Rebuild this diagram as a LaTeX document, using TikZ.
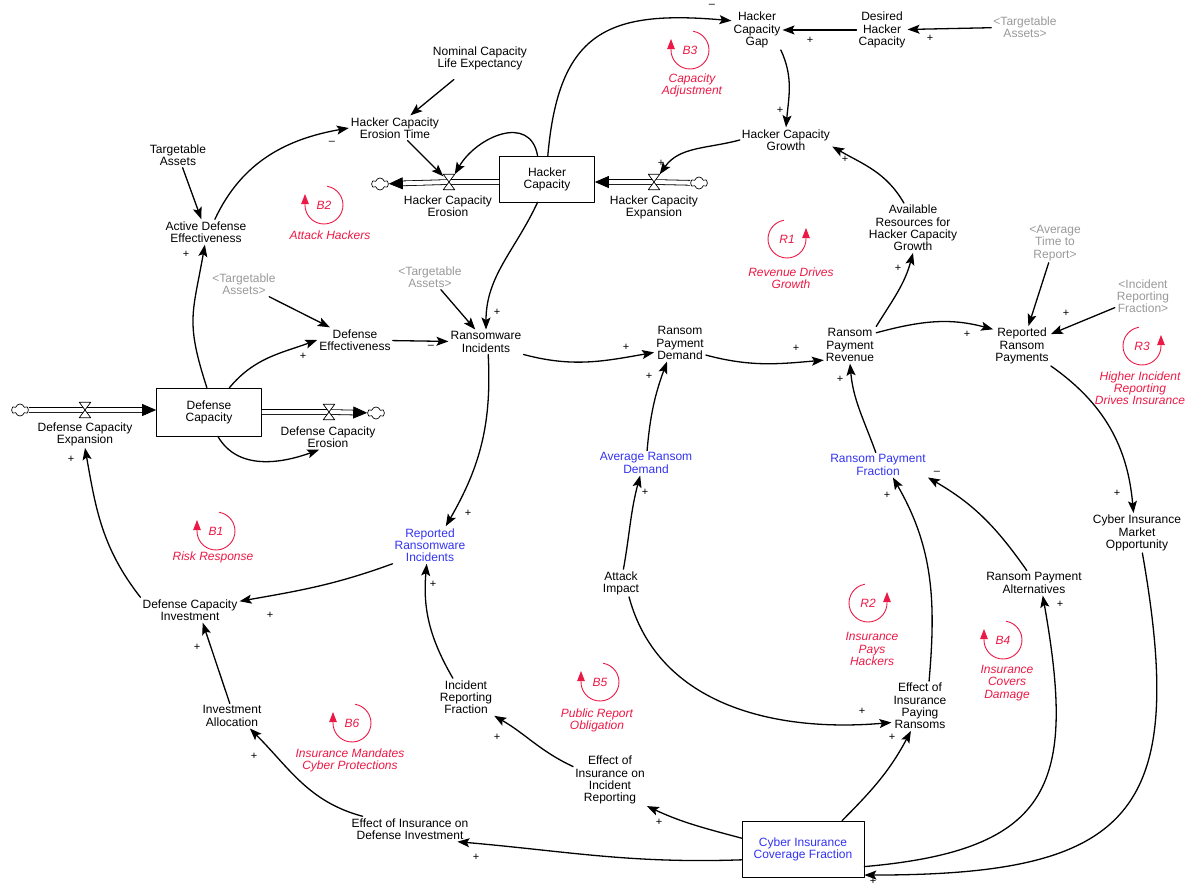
\documentclass[tikz,border=0pt]{standalone}
\usepackage{fontspec}
\setmainfont{Liberation Sans}
\usepackage{tikz}
\usetikzlibrary{arrows.meta}
\usetikzlibrary{shapes.symbols}
\definecolor{loopred}{rgb}{0.92, 0.1, 0.27}
\definecolor{varblue}{rgb}{0.2, 0.2, 0.95}
\definecolor{shadowgray}{rgb}{0.6, 0.6, 0.6}

\begin{document}
\begin{tikzpicture}[x=1pt,y=1pt,line cap=round,line join=round,
  font=\fontsize{12}{12.2}\selectfont,
  var/.style={align=center,inner sep=2pt},
  keyvar/.style={var,text=varblue},
  shadowvar/.style={var,text=shadowgray},
  stock/.style={draw,line width=0.7pt,align=center,inner sep=0pt},
  valve/.style={minimum width=11pt,minimum height=15pt,inner sep=0pt},
  cloudy/.style={cloud,draw,fill=white,cloud puffs=6,minimum width=17pt,minimum height=12pt,inner sep=0pt,line width=0.7pt},
  link/.style={line width=1.3pt,-{Stealth[length=12pt,width=9pt,inset=2.5pt]}},
  pipe/.style={line width=0.8pt,line cap=butt,double=white,double distance=4pt,-{Triangle[length=14pt,width=12pt]}},
  pol/.style={font=\fontsize{11}{11}\selectfont,inner sep=0pt},
  loopname/.style={text=loopred,font=\fontsize{12}{12.2}\selectfont\itshape,align=center,inner sep=1pt},
  loopring/.style={draw=loopred,line width=0.9pt,-{Triangle[length=10pt,width=7.5pt]}}]
\useasboundingbox (0,0) rectangle (1187,-886);

% hacker side
\node[var] (gap) at (757,-30) {Hacker\\Capacity\\Gap};
\node[var] (dhc) at (882,-30) {Desired\\Hacker\\Capacity};
\node[shadowvar] (tas3) at (1025,-27) {<Targetable\\Assets>};
\node[var] (hcg) at (786,-140) {Hacker Capacity\\Growth};
\node[var] (ncle) at (480,-58) {Nominal Capacity\\Life Expectancy};
\node[var] (het) at (395,-128) {Hacker Capacity\\Erosion Time};
\node[stock,minimum width=95pt,minimum height=46pt] (hcap) at (547,-179) {Hacker\\Capacity};
\node[valve] (vHE) at (654,-182) {};
\node[valve] (vHR) at (449,-182) {};
\node[cloudy] (cHE) at (699,-183) {};
\node[cloudy] (cHR) at (380,-184) {};
\node[var] (lHE) at (654,-207) {Hacker Capacity\\Expansion};
\node[var] (lHR) at (448,-206) {Hacker Capacity\\Erosion};

% defense side
\node[var] (tas1) at (178,-155) {Targetable\\Assets};
\node[var] (ade) at (206,-232) {Active Defense\\Effectiveness};
\node[shadowvar] (tas2) at (244,-284) {<Targetable\\Assets>};
\node[shadowvar] (tas4) at (430,-277) {<Targetable\\Assets>};
\node[var] (dfe) at (355,-340) {Defense\\Effectiveness};
\node[var] (ri) at (486,-342) {Ransomware\\Incidents};
\node[stock,minimum width=105pt,minimum height=48pt] (dcap) at (209,-412) {Defense\\Capacity};
\node[valve] (vDE) at (85,-410) {};
\node[valve] (vDR) at (329,-412) {};
\node[cloudy] (cDE) at (20,-410) {};
\node[cloudy] (cDR) at (376,-413) {};
\node[var] (lDE) at (85,-434) {Defense Capacity\\Expansion};
\node[var] (lDR) at (328,-437) {Defense Capacity\\Erosion};
\node[var] (dci) at (190,-610) {Defense Capacity\\Investment};
\node[keyvar] (rri) at (430,-545) {Reported\\Ransomware\\Incidents};
\node[var] (ia) at (232,-716) {Investment\\Allocation};
\node[var] (eidi) at (410,-829) {Effect of Insurance on\\Defense Investment};
\node[var] (irf) at (466,-697) {Incident\\Reporting\\Fraction};
\node[var] (eiir) at (610,-780) {Effect of\\Insurance on\\Incident\\Reporting};
\node[stock,minimum width=122pt,minimum height=56pt,text=varblue] (cicf) at (803,-849) {Cyber Insurance\\Coverage Fraction};

% ransom side
\node[var] (ai) at (621,-583) {Attack\\Impact};
\node[keyvar] (ard) at (646,-463) {Average Ransom\\Demand};
\node[var] (rpd) at (680,-343) {Ransom\\Payment\\Demand};
\node[var] (rpr) at (850,-345) {Ransom\\Payment\\Revenue};
\node[var] (arhc) at (913,-228) {Available\\Resources for\\Hacker Capacity\\Growth};
\node[var] (rrp) at (1022,-346) {Reported\\Ransom\\Payments};
\node[shadowvar] (atr) at (1055,-243) {<Average\\Time to\\Report>};
\node[shadowvar] (irfg) at (1143,-296) {<Incident\\Reporting\\Fraction>};
\node[var] (cimo) at (1137,-533) {Cyber Insurance\\Market\\Opportunity};
\node[keyvar] (rpf) at (878,-465) {Ransom Payment\\Fraction};
\node[var] (rpa) at (1034,-583) {Ransom Payment\\Alternatives};
\node[var] (eipr) at (920,-706) {Effect of\\Insurance\\Paying\\Ransoms};

% flows
\draw[pipe] (cHE) -- (vHE.center) -- (vHE -| hcap.east);
\draw[pipe] (vHR -| hcap.west) -- (vHR.center) -- (cHR);
\draw[pipe] (cDE) -- (vDE.center) -- (vDE -| dcap.west);
\draw[pipe] (vDR -| dcap.east) -- (vDR.center) -- (cDR);
\foreach \v in {vHE,vHR,vDE,vDR}
  \draw[fill=white,line width=0.7pt] (\v.north west) -- (\v.north east) -- (\v.south west) -- (\v.south east) -- cycle;

% links
\draw[link] (tas3) -- (dhc);
\draw[link] (dhc) -- (gap);
\draw[link] (gap.-40) to[out=-65,in=85] (hcg.north);
\draw[link] (hcg.west) to[out=195,in=55] (vHE.north east);
\draw[link] (hcap.112) to[out=100,in=60,looseness=1.3] (vHR.north east);
\draw[link] (het) -- (vHR);
\draw[link,shorten <=12pt] (ncle) -- (het);
\draw[link] (hcap.88) to[out=85,in=175,looseness=1.4] (gap.160);
\draw[link] (hcap.-112) to[out=-115,in=90] (ri.north);
\draw[link] (tas1) -- (ade);
\draw[link] (ade.55) to[out=65,in=190] (het.west);
\draw[link] (dcap.95) to[out=108,in=-100,looseness=1.25] (ade.-95);
\draw[link] (tas2) -- (dfe);
\draw[link] (dcap.50) to[out=50,in=200] (dfe.west);
\draw[link] (dfe) -- (ri);
\draw[link] (tas4) -- (ri);
\draw[link] (ri.-80) to[out=-87,in=60] (rri.50);
\draw[link] (dcap.-70) to[out=-60,in=200] (lDR.-125);
\draw[link] (dci.north west) to[out=128,in=-80] (lDE.south);
\draw[link] (rri.south west) to[out=200,in=10] (dci.10);
\draw[link] (ia.100) -- (dci.-45);
\draw[link] (eidi.165) to[out=165,in=-45] (ia.-35);
\draw[link] (irf.125) to[out=120,in=-95] (rri.-100);
\draw[link] (eiir.160) to[out=155,in=-30] (irf.south east);
\draw[link] (cicf.170) to[out=165,in=-25] (eiir.south east);
\draw[link] (cicf.190) to[out=182,in=-5] (eidi.-15);
\draw[link] (cicf.36) to[out=45,in=-118] (eipr.-110);
\draw[link] (cicf.-16) to[out=5,in=-80,looseness=1.5] (rpa.-55);
\draw[link] (cimo.-75) to[out=-80,in=0,looseness=1.6] (cicf.-23);
\draw[link] (ai.-60) to[out=-75,in=185] (eipr.-150);
\draw[link] (ai.80) to[out=80,in=-105] (ard.-115);
\draw[link] (ard.85) to[out=85,in=-110] (rpd.-125);
\draw[link] (ri.south east) to[out=-15,in=190] (rpd.-160);
\draw[link] (rpd.-25) to[out=-15,in=185] (rpr.-150);
\draw[link] (rpf.100) to[out=110,in=-85] (rpr.south);
\draw[link] (rpr.north east) to[out=58,in=-105] (arhc.south);
\draw[link] (arhc.110) to[out=120,in=-30] (hcg.-8);
\draw[link] (rpr.25) to[out=15,in=165] (rrp.150);
\draw[link] (atr) -- (rrp);
\draw[link] (irfg) -- (rrp);
\draw[link] (rrp.south east) to[out=-35,in=95] (cimo.100);
\draw[link] (eipr.70) to[out=85,in=-60] (rpf.-40);
\draw[link] (rpa.120) to[out=125,in=-30] (rpf.south east);

% polarities
\foreach \x/\y/\s [count=\i] in {930/38/+, 810/40/+, 780/110/+, 661/163/+, 712/6/\textendash, 497/312/+,
    332/143/\textendash, 186/254/+, 303/356/+, 431/347/\textendash, 468/513/+, 71/459/+, 270/615/+,
    197/647/+, 254/756/+, 433/584/+, 497/737/+, 659/822/+, 476/857/+, 892/737/+, 1060/604/+,
    873/881/+, 862/711/+, 645/492/+, 649/376/+, 626/347/+, 796/348/+, 840/379/+, 898/268/+,
    845/159/+, 967/334/+, 1066/313/+, 1117/493/+, 887/495/+, 937/473/\textendash}
  \node[pol] (pol\i) at (\x,-\y) {\s};

% balancing loops
\foreach \x/\y/\lp in {216/531/B1, 324/205/B2, 690/50/B3, 1003/640/B4, 600/682/B5, 352/723/B6}{
  \draw[loopring] (\x,-\y) ++(80:19) arc (80:-180:19) -- ++(0,11);
  \node[loopname] (\lp) at (\x,-\y) {\lp};
}
% reinforcing loops
\foreach \x/\y/\lp in {787/239/R1, 868/603/R2, 1142/346/R3}{
  \draw[loopring] (\x,-\y) ++(100:19) arc (100:360:19) -- ++(0,11);
  \node[loopname] (\lp) at (\x,-\y) {\lp};
}
\foreach \x/\y/\t [count=\i] in {213/557/Risk Response, 330/235/Attack Hackers, 692/85/Capacity\\Adjustment,
    791/278/Revenue Drives\\Growth, 872/649/Insurance\\Pays\\Hackers, 1140/388/Higher Incident\\Reporting\\Drives Insurance,
    1007/683/Insurance\\Covers\\Damage, 597/720/Public Report\\Obligation, 350/760/Insurance Mandates\\Cyber Protections}
  \node[loopname] (caption\i) at (\x,-\y) {\t};
\end{tikzpicture}
\end{document}
